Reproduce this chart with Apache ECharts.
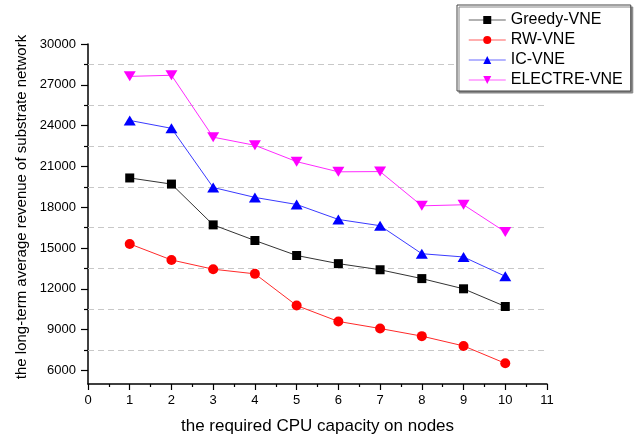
<!DOCTYPE html>
<html>
<head>
<meta charset="utf-8">
<script src="https://cdn.jsdelivr.net/npm/echarts@6/dist/echarts.min.js"></script>
<style>
  html, body { margin: 0; padding: 0; background: #fff; }
  #chart { width: 641px; height: 440px; }
</style>
</head>
<body>
<div id="chart"></div>
<script>
  // data
  const nodes = [1, 2, 3, 4, 5, 6, 7, 8, 9, 10];
  const greedyVne = [20150, 19700, 16700, 15550, 14450, 13850, 13400, 12750, 12000, 10700];
  const rwVne = [15300, 14120, 13440, 13100, 10770, 9600, 9080, 8520, 7800, 6520];
  const icVne = [24380, 23800, 19450, 18720, 18200, 17100, 16640, 14580, 14340, 12920];
  const electreVne = [27620, 27700, 23150, 22550, 21350, 20600, 20620, 18100, 18180, 16180];

  const yMajorTicks = [6000, 9000, 12000, 15000, 18000, 21000, 24000, 27000, 30000];
  const yMinorTicks = [7500, 10500, 13500, 16500, 19500, 22500, 25500, 28500];

  const FONT = "'Liberation Sans', Arial, sans-serif";

  const pairs = (ys) => nodes.map((x, i) => [x, ys[i]]);

  const chart = echarts.init(document.getElementById("chart"), null, { renderer: "canvas" });

  function lineSeries(name, data, color, lineColor, symbol, size) {
    return {
      name: name,
      type: "line",
      data: pairs(data),
      symbol: symbol,
      symbolSize: size,
      itemStyle: { color: color },
      lineStyle: { color: lineColor, width: 1 },
      emphasis: { disabled: true },
      z: 3,
    };
  }

  const series = [
    lineSeries("Greedy-VNE", greedyVne, "#000000", "#333333", "rect", 9),
    lineSeries("RW-VNE", rwVne, "#ff0000", "#ff2a2a", "circle", 10),
    lineSeries("IC-VNE", icVne, "#0000ff", "#3a3aff", "triangle", [12, 10]),
    lineSeries("ELECTRE-VNE", electreVne, "#ff00ff", "#ff2aff", "path://M0,0 L10,0 L5,9 Z", [12, 10]),
  ];

  // dashed grid lines sit at the minor tick positions
  series[0].markLine = {
    silent: true,
    symbol: "none",
    label: { show: false },
    lineStyle: { type: [6, 4], color: "#c8c8c8", width: 1 },
    emphasis: { disabled: true },
    data: yMinorTicks.map((v) => ({ yAxis: v })),
    z: 1,
  };

  chart.setOption({
    animation: false,
    backgroundColor: "#ffffff",
    textStyle: { fontFamily: FONT },
    grid: { left: 88, right: 94, top: 44, bottom: 56 },
    legend: {
      orient: "vertical",
      left: 457,
      top: 5,
      padding: [7, 8, 3, 11],
      itemGap: 4,
      itemWidth: 37,
      itemHeight: 10,
      backgroundColor: "#ffffff",
      borderColor: "#444444",
      borderWidth: 1,
      shadowColor: "#888888",
      shadowOffsetX: 2,
      shadowOffsetY: 2,
      shadowBlur: 0,
      lineStyle: { width: 1.5, opacity: 0.5 },
      textStyle: { fontFamily: FONT, fontSize: 16, color: "#000", lineHeight: 16 },
      data: ["Greedy-VNE", "RW-VNE", "IC-VNE", "ELECTRE-VNE"],
    },
    xAxis: {
      type: "value",
      min: 0,
      max: 11,
      interval: 1,
      name: "the required CPU capacity on nodes",
      nameLocation: "middle",
      nameGap: 34,
      nameTextStyle: { fontFamily: FONT, fontSize: 17, color: "#000" },
      axisLine: { show: true, onZero: false, lineStyle: { color: "#000", width: 1.5 } },
      axisTick: { show: true, inside: false, length: 6, lineStyle: { color: "#000", width: 1.2 } },
      minorTick: { show: true, splitNumber: 2, length: 3, lineStyle: { color: "#000", width: 1.2 } },
      axisLabel: { fontFamily: FONT, fontSize: 13, color: "#000", margin: 10 },
      splitLine: { show: false },
    },
    yAxis: [
      {
        type: "value",
        min: 5000,
        max: 30000,
        name: "the long-term average revenue of substrate network",
        nameLocation: "middle",
        nameGap: 51,
        nameTextStyle: { fontFamily: FONT, fontSize: 15, color: "#000", padding: [0, 0, 0, 14] },
        axisLine: { show: true, onZero: false, lineStyle: { color: "#000", width: 1.5 } },
        axisTick: { show: true, inside: false, length: 7, customValues: yMajorTicks, lineStyle: { color: "#000", width: 1.2 } },
        axisLabel: {
          fontFamily: FONT, fontSize: 13, color: "#000", margin: 12,
          customValues: yMajorTicks,
          formatter: (v) => String(v),
        },
        splitLine: { show: false },
      },
      {
        // minor ticks only
        type: "value",
        position: "left",
        min: 5000,
        max: 30000,
        axisLine: { show: false },
        axisTick: { show: true, inside: false, length: 4, customValues: yMinorTicks, lineStyle: { color: "#000", width: 1.2 } },
        axisLabel: { show: false, customValues: yMinorTicks },
        splitLine: { show: false },
      },
    ],
    series: series,
  });
</script>
</body>
</html>
